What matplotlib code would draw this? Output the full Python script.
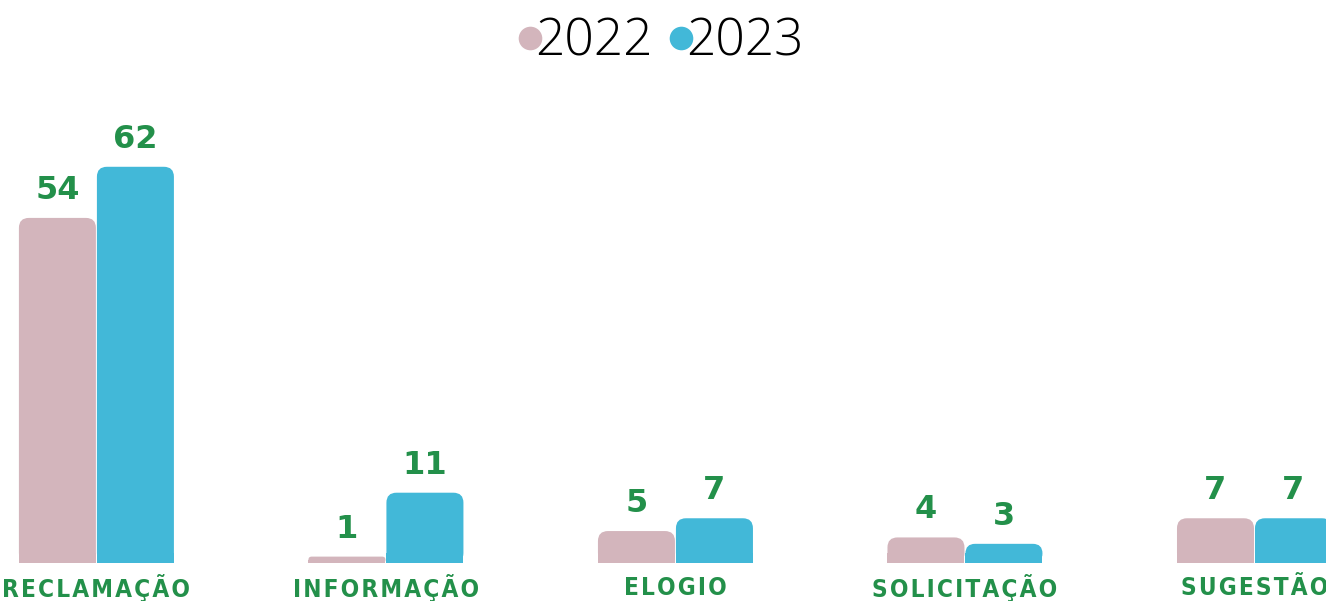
import matplotlib
matplotlib.use("Agg")
import matplotlib.pyplot as plt
from matplotlib.patches import FancyBboxPatch, Rectangle
from matplotlib.lines import Line2D
import numpy as np

categories = ["RECLAMAÇÃO", "INFORMAÇÃO", "ELOGIO", "SOLICITAÇÃO", "SUGESTÃO"]
values_2022 = [54, 1, 5, 4, 7]
values_2023 = [62, 11, 7, 3, 7]
series_names = ["2022", "2023"]

C_2022 = "#D3B5BC"
C_2023 = "#42B8D8"
GREEN = "#23904A"

fig = plt.figure(figsize=(13.26, 6.01), dpi=100)
ax = fig.add_axes([0, 38/601, 1, 463/601])
ax.set_xlim(-0.333, 4.247)
ax.set_ylim(0, 72.45)
ax.axis("off")

x = np.arange(len(categories))
w = 0.266
off = 0.1347
bars1 = ax.bar(x - off, values_2022, w, color=C_2022)
bars2 = ax.bar(x + off, values_2023, w, color=C_2023)

px_x = (4.247 + 0.333) / 1326
px_y = 72.45 / 463
r_px = 10

def round_bars(bars, color):
    for b in bars:
        b.set_visible(False)
        bx, bw, bh = b.get_x(), b.get_width(), b.get_height()
        r = min(r_px, bh / px_y / 2)
        ry = r * px_y
        rx = r * px_x
        patch = FancyBboxPatch((bx, 0), bw, bh,
                               boxstyle=f"round,pad=0,rounding_size={rx}",
                               mutation_aspect=px_y / px_x,
                               facecolor=color, edgecolor="none")
        ax.add_patch(patch)
        ax.add_patch(Rectangle((bx, 0), bw, min(bh, ry * 1.05), facecolor=color, edgecolor="none"))

round_bars(bars1, C_2022)
round_bars(bars2, C_2023)

for bars, vals in ((bars1, values_2022), (bars2, values_2023)):
    for b, v in zip(bars, vals):
        ax.annotate(str(v), (b.get_x() + b.get_width() / 2, v),
                    xytext=(0, 12), textcoords="offset pixels",
                    ha="center", va="bottom", color=GREEN,
                    fontsize=23, fontweight="bold", family="DejaVu Sans")

for xi, cat in zip(x, categories):
    ax.annotate("\u200a".join(cat), (xi, 0), xytext=(0, -25), textcoords="offset pixels",
                ha="center", va="center", color=GREEN, fontsize=17.5,
                fontweight="heavy", fontstretch="condensed", family="DejaVu Sans",
                annotation_clip=False)

handles = [Line2D([], [], marker="o", linestyle="none", markersize=17, color=c, markeredgewidth=0)
           for c in (C_2022, C_2023)]
leg = fig.legend(handles, series_names, loc="upper center", bbox_to_anchor=(0.493, 1.05), ncol=2,
                 frameon=False, handletextpad=-0.4, columnspacing=0.05, handlelength=1.0,
                 prop={"family": "Open Sans", "weight": "light", "size": 37})

fig.savefig("out.png", dpi=100, facecolor="white")
